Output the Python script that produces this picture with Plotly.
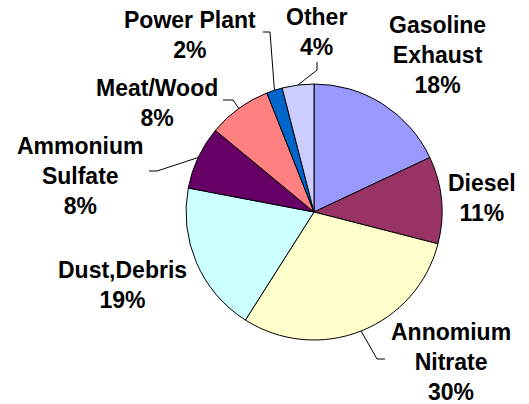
import math
import plotly.graph_objects as go

# ---- data ----
labels = ["Gasoline<br>Exhaust", "Diesel", "Annomium<br>Nitrate", "Dust,Debris",
          "Ammonium<br>Sulfate", "Meat/Wood", "Power Plant", "Other"]
values = [18, 11, 30, 19, 8, 8, 2, 4]
colors = ["#9999FF", "#993366", "#FFFFCC", "#CCFFFF",
          "#660066", "#FF8080", "#0066CC", "#CCCCFF"]

# ---- layout / style (pixels in the 529x404 window) ----
W, H = 529, 404
CX, CY, R = 314, 212, 128
label_pos = [(437, 55), (482, 198), (451, 362), (122, 285),
             (80, 176), (157, 103), (190, 35), (316, 32)]
# leader elbows: (elbow, end) or None
leaders = [None, None, ((377, 359), (385, 359)), None,
           ((157, 171), (149, 171)), ((233, 100), (223, 100)),
           ((270, 32), (263, 32)), ((317, 70), (317, 62))]

def px(x, y):
    return x / W, 1 - y / H

fig = go.Figure()
x0, y1 = px(CX - R, CY - R)
x1, y0 = px(CX + R, CY + R)
fig.add_trace(go.Pie(
    labels=labels, values=values, sort=False, direction="clockwise",
    rotation=0, textinfo="none", hoverinfo="label+percent",
    marker=dict(colors=colors, line=dict(color="black", width=1)),
    domain=dict(x=[x0, x1], y=[y0, y1]),
    showlegend=False,
))

total = sum(values)
cum = 0
annotations = []
shapes = []
for lab, v, pos, ld in zip(labels, values, label_pos, leaders):
    pct = round(100 * v / total)
    mid = (cum + v / 2) / total * 2 * math.pi
    cum += v
    ax, ay = px(*pos)
    annotations.append(dict(
        x=ax, y=ay, xref="paper", yref="paper", showarrow=False,
        text=f"{lab}<br>{pct}%", align="center",
        xanchor="center", yanchor="middle",
        font=dict(family="Liberation Sans, Arial", size=23, color="black", weight="bold"),
    ))
    if ld is not None:
        sx = CX + R * math.sin(mid)
        sy = CY - R * math.cos(mid)
        pts = [(sx, sy), ld[0], ld[1]]
        path = "M " + " L ".join(f"{px(x, y)[0]},{px(x, y)[1]}" for x, y in pts)
        shapes.append(dict(type="path", path=path, xref="paper", yref="paper",
                           line=dict(color="black", width=1)))

fig.update_layout(
    width=W, height=H, margin=dict(l=0, r=0, t=0, b=0),
    paper_bgcolor="white", plot_bgcolor="white",
    annotations=annotations, shapes=shapes,
)
fig.write_html("out.html", config={"displayModeBar": False},
               post_script="document.body.style.margin='0';document.body.style.overflow='hidden';")
